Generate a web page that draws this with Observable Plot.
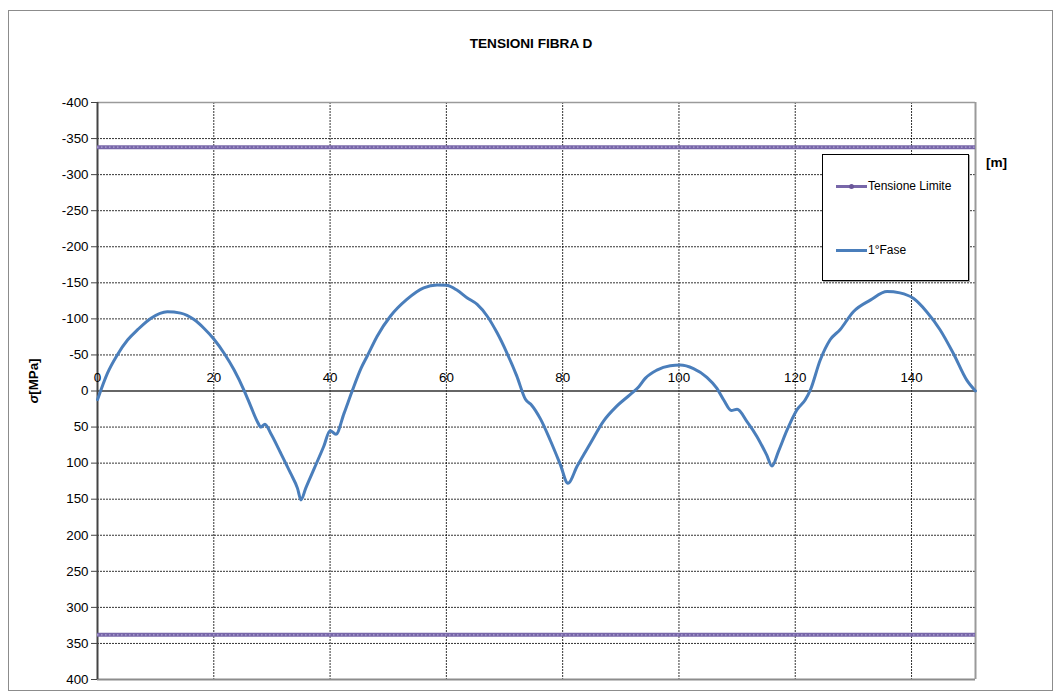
<!DOCTYPE html>
<html><head><meta charset="utf-8">
<script src="https://cdn.jsdelivr.net/npm/d3@7"></script>
<script src="https://cdn.jsdelivr.net/npm/@observablehq/plot@0.6"></script>
<style>
body{margin:0;background:#fff;font-family:"Liberation Sans",Arial,sans-serif;}
#wrap{position:relative;width:1062px;height:698px;overflow:hidden;background:#fff}
#frame{position:absolute;left:8px;top:10px;width:1045px;height:681px;border:1px solid #8c8c8c;box-sizing:border-box}
#chart{position:absolute;left:0;top:0}
#title{position:absolute;left:0;width:1062px;top:36px;text-align:center;font-weight:bold;font-size:13.6px;color:#000}
#ylab{position:absolute;left:33px;top:381px;transform:translate(-50%,-50%) rotate(-90deg);font-weight:bold;font-size:13.33px;white-space:nowrap;color:#000}
#unit{position:absolute;left:986px;top:155px;font-weight:bold;font-size:13.6px;color:#000}
#legend{position:absolute;left:822px;top:154px;width:147px;height:127px;border:1px solid #000;box-sizing:border-box;background:#fff;box-shadow:1px 1px 0 #aaa;font-size:12px;color:#000}
.item{position:absolute;left:13px;display:flex;align-items:center}
.sw{position:relative;width:31px;height:3px;margin-right:1px}
.dot{position:absolute;left:13px;top:-1px;width:5px;height:5px;border-radius:50%;background:#6a5699}
</style></head>
<body>
<div id="wrap">
  <div id="frame"></div>
  <div id="chart"></div>
  <div id="title"></div>
  <div id="ylab"><i>σ</i>[MPa]</div>
  <div id="unit"></div>
  <div id="legend"></div>
</div>
<script>
// ---- data ----
const chartTitle = "TENSIONI FIBRA D";
const xUnit = "[m]";
const seriesNames = ["Tensione Limite", "1°Fase"];
const xTicks = [0, 20, 40, 60, 80, 100, 120, 140];
const yTicks = [-400, -350, -300, -250, -200, -150, -100, -50, 0, 50, 100, 150, 200, 250, 300, 350, 400];
const limitValues = [-338, 338];
const fibraX = [0,1.7,3.4,5.2,6.9,9.2,12.0,14.3,16.6,18.3,20,21.8,23.5,25.2,26.4,27.5,28.1,28.8,29.8,31.5,33.2,34.4,35,35.8,37.3,38.9,40,41,42.4,43.8,45.3,46.4,48.1,50.4,53.2,56.1,58.4,60,61.8,63.6,65.3,67,68.7,70.4,72.1,73.6,74.7,76.2,77.9,79.6,80.9,82.5,84.8,87,89.3,91.6,93.1,94.2,96.2,98.5,100.2,102.5,104.8,106.5,107.7,109,110,111.7,113.4,115.1,116,117.1,118.6,120.3,121.7,122.6,124.3,126,127.7,130,132.9,135.8,138,140.3,142.6,144.9,147.2,149.5,151];
const fibraY = [12,-24.5,-50,-71,-85,-101,-110,-108,-99,-87,-72,-52,-29,-1,22,42.5,50,46,59,86,114,135,151,135,107,77,55,60,31,0,-31,-48.5,-76,-104,-127,-143,-147,-146.5,-140,-129,-120,-104,-81,-53,-21,11.5,20,39,69,102,128,104,72,42,21,5,-6,-17.5,-29,-35,-36,-31,-19,-4,12.5,27,25.4,42.5,63,89,104,84,54,26,12.5,-1.4,-43,-71,-85,-110,-126,-138,-136,-128.5,-110,-85,-52,-15,0];
const xMax = 151;
const limitColor = "#7867a9";
const fibraColor = "#4a7ebb";

// ---- build ----
const rows = fibraX.map((x, i) => ({x, y: fibraY[i]}));
const W = 1062, H = 698;

const chart = Plot.plot({
  width: W, height: H,
  marginLeft: 97, marginTop: 102, marginRight: 87, marginBottom: 19,
  style: {fontFamily: "Liberation Sans, Arial, sans-serif", fontSize: "13.33px", color: "#000", background: "transparent", overflow: "visible"},
  x: {domain: [0, xMax]},
  y: {domain: [-400, 400], reverse: true},
  marks: [
    Plot.ruleY(yTicks.filter(v => v !== 0 && v !== 400 && v !== -400), {stroke: "#000", strokeDasharray: "2,1", strokeWidth: 1, strokeOpacity: 0.8}),
    Plot.ruleX(xTicks.filter(v => v > 0), {stroke: "#000", strokeDasharray: "2,1", strokeWidth: 1, strokeOpacity: 0.8}),
    Plot.ruleY([-400], {stroke: "#9a9a9a", strokeWidth: 1.5}),
    Plot.ruleY([400], {stroke: "#8c8c8c", strokeWidth: 2}),
    Plot.ruleX([xMax], {stroke: "#9a9a9a", strokeWidth: 2}),
    Plot.ruleY([0], {stroke: "#333", strokeWidth: 1.3}),
    Plot.ruleX([0], {stroke: "#444", strokeWidth: 2}),
    Plot.axisY({ticks: yTicks, tickSize: 6, tickPadding: 3, tickFormat: d => String(d), label: null, stroke: "#444", fontSize: 13.33}),
    Plot.axisX({ticks: [], label: null}),
    Plot.text(xTicks, {x: d => d, y: () => 0, dy: -13, text: d => String(d), fontSize: 13.33, fill: "#000"}),
    Plot.ruleY(limitValues, {stroke: limitColor, strokeWidth: 4}),
    Plot.ruleY(limitValues, {stroke: "#b3a8d6", strokeWidth: 1.2, strokeDasharray: "1.5,2.5"}),
    Plot.line(rows, {x: "x", y: "y", stroke: fibraColor, strokeWidth: 3, curve: "monotone-x"})
  ]
});
document.getElementById("chart").appendChild(chart);
document.getElementById("title").textContent = chartTitle;
document.getElementById("unit").textContent = xUnit;

const lg = document.getElementById("legend");
const tops = [24, 88];
const colors = [limitColor, fibraColor];
seriesNames.forEach((name, i) => {
  const it = document.createElement("div");
  it.className = "item";
  it.style.top = tops[i] + "px";
  const sw = document.createElement("div");
  sw.className = "sw";
  sw.style.background = colors[i];
  if (i === 0) { const d = document.createElement("div"); d.className = "dot"; sw.appendChild(d); }
  const t = document.createElement("span");
  t.textContent = name;
  it.appendChild(sw); it.appendChild(t);
  lg.appendChild(it);
});
</script>
</body></html>
